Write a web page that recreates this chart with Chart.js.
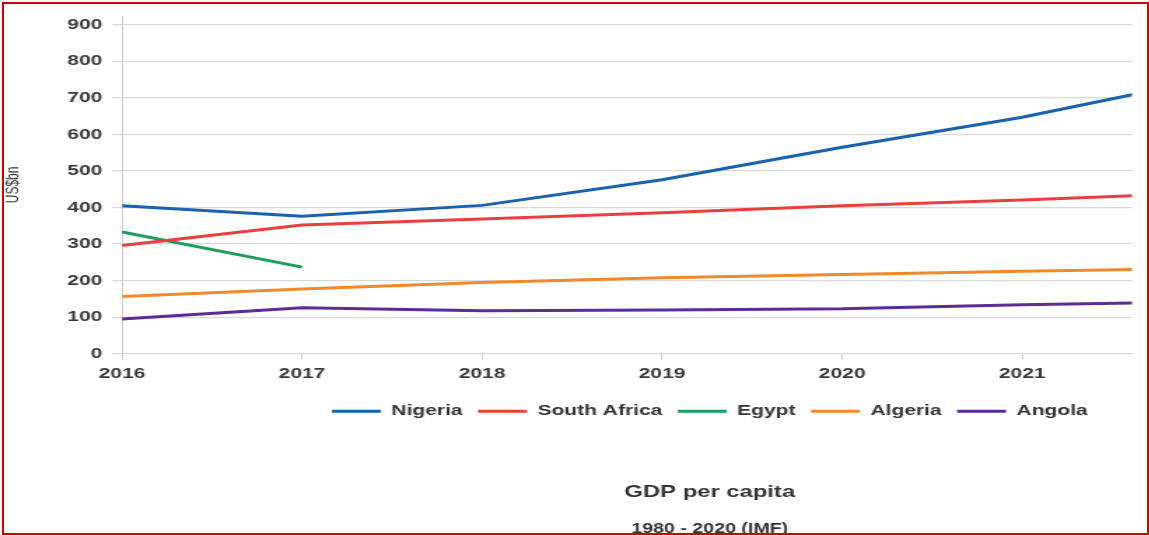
<!DOCTYPE html>
<html>
<head>
<meta charset="utf-8">
<title>GDP per capita</title>
<script src="https://cdn.jsdelivr.net/npm/chart.js@4.4.1/dist/chart.umd.min.js"></script>
<style>
  html, body { margin: 0; padding: 0; background: #fff; overflow: hidden; }
  #stage { position: relative; width: 1149px; height: 535px; }
  /* the chart is drawn narrow and stretched sideways */
  #gdpChart { position: absolute; left: 0; top: 0; transform: scaleX(1.4); transform-origin: 0 0; }
  #frame {
    position: absolute; left: 2px; top: 2px; width: 1147px; height: 533px;
    box-sizing: border-box; border: 2px solid #c80000; pointer-events: none;
  }
</style>
</head>
<body>
<div id="stage">
  <canvas id="gdpChart" width="821" height="535"></canvas>
  <div id="frame"></div>
</div>
<script>
const YEARS = [2016, 2017, 2018, 2019, 2020, 2021, 2022];

const NIGERIA = [405, 376, 406, 476, 565, 647, 748];
const SOUTH_AFRICA = [296, 352, 369, 386, 405, 421, 439];
const EGYPT = [333, 237, null, null, null, null, null];
const ALGERIA = [157, 177, 195, 208, 217, 226, 233];
const ANGOLA = [95, 126, 118, 120, 123, 134, 142];

const Y_TICK_STEP = 100;
const X_RANGE = { min: 2016, max: 2021.61 };
const Y_RANGE = { min: 0, max: 924 };

const SERIES = [
  { label: "Nigeria", values: NIGERIA, color: "#1b62ad" },
  { label: "South Africa", values: SOUTH_AFRICA, color: "#e8403f" },
  { label: "Egypt", values: EGYPT, color: "#1e9e5a" },
  { label: "Algeria", values: ALGERIA, color: "#ef8a2c" },
  { label: "Angola", values: ANGOLA, color: "#5b2d95" },
];

const TEXT_COLOR = "#3a3a3a";
const GRID_COLOR = "#d9d9d9";

Chart.defaults.font.family = "'Liberation Sans', Arial, sans-serif";

// keeps legend, title and subtitle centred on one column under the plot
const centerBottomBlocks = {
  id: "centerBottomBlocks",
  afterLayout(chart, args, opts) {
    chart.boxes
      .filter((box) => !box.axis && box.position === "bottom")
      .forEach((box) => {
        const dx = opts.center - (box.left + box.right) / 2;
        box.left += dx;
        box.right += dx;
      });
  },
};

function toPoints(values) {
  return values.map((value, i) => ({ x: YEARS[i], y: value }));
}

function buildDatasets() {
  return SERIES.map((series) => ({
    label: series.label,
    data: toPoints(series.values),
    borderColor: series.color,
    backgroundColor: series.color,
    borderWidth: 3,
    pointRadius: 0,
    tension: 0,
    fill: false,
    spanGaps: false,
  }));
}

function createChart(canvas) {
  return new Chart(canvas.getContext("2d"), {
    type: "line",
    data: { datasets: buildDatasets() },
    plugins: [centerBottomBlocks],
    options: {
      responsive: false,
      animation: false,
      events: [],
      layout: { padding: { top: 10, right: 12.4, bottom: 0, left: 0 } },
      scales: {
        x: {
          type: "linear",
          min: X_RANGE.min,
          max: X_RANGE.max,
          afterBuildTicks: (scale) => {
            scale.ticks = scale.ticks.filter((t) => Number.isInteger(t.value));
          },
          afterFit: (scale) => {
            scale.height = 39;
          },
          ticks: {
            stepSize: 1,
            includeBounds: false,
            padding: 5,
            autoSkip: false,
            maxRotation: 0,
            color: TEXT_COLOR,
            font: { size: 15, weight: "bold" },
            callback: (value) => String(value),
          },
          grid: { drawOnChartArea: false, tickLength: 6, color: "#cfcfcf" },
          border: { color: GRID_COLOR },
        },
        y: {
          min: Y_RANGE.min,
          max: Y_RANGE.max,
          afterBuildTicks: (scale) => {
            scale.ticks = scale.ticks.filter((t) => t.value % Y_TICK_STEP === 0);
          },
          afterFit: (scale) => {
            scale.width = 87.14;
          },
          ticks: {
            stepSize: Y_TICK_STEP,
            includeBounds: false,
            padding: 7,
            color: TEXT_COLOR,
            font: { size: 15, weight: "bold" },
          },
          grid: { color: GRID_COLOR, lineWidth: 1.3, tickLength: 7 },
          border: { color: "#cfcfcf" },
          title: {
            display: true,
            text: "US$bn",
            color: "#333",
            font: { size: 12 },
            padding: { top: 2 },
          },
        },
      },
      plugins: {
        centerBottomBlocks: { center: 507 },
        legend: {
          position: "bottom",
          labels: {
            boxWidth: 35,
            boxHeight: 0,
            padding: 11,
            color: "#333",
            font: { size: 15, weight: "bold" },
          },
        },
        title: {
          display: true,
          position: "bottom",
          weight: 1200,
          text: "GDP per capita",
          color: "#333",
          font: { size: 17, weight: "bold" },
          padding: { top: 53, bottom: 0 },
        },
        subtitle: {
          display: true,
          position: "bottom",
          weight: 1500,
          text: "1980 - 2020 (IMF)",
          color: "#333",
          font: { size: 14, weight: "bold", lineHeight: 0.8 },
          padding: { top: 21.6, bottom: 0 },
        },
        tooltip: { enabled: false },
      },
    },
  });
}

document.addEventListener("DOMContentLoaded", () => {
  createChart(document.getElementById("gdpChart"));
});
</script>
</body>
</html>
